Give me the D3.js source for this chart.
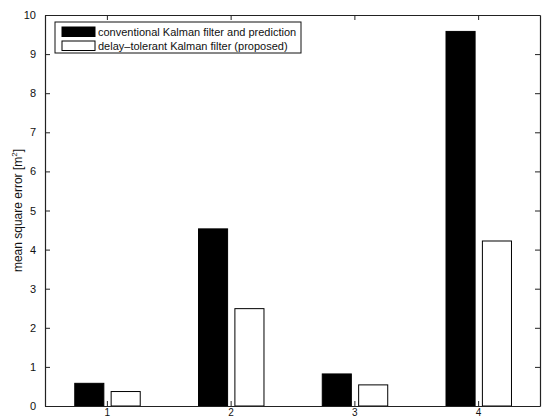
<!DOCTYPE html>
<html>
<head>
<meta charset="utf-8">
<script src="https://cdn.jsdelivr.net/npm/d3@7"></script>
<style>
body { margin: 0; background: #fff; }
text { font-family: "Liberation Sans", Arial, sans-serif; fill: #111; }
</style>
</head>
<body>
<div id="chart"></div>
<script>
// data
var scenarios = [1, 2, 3, 4];
var conventional = [0.58, 4.53, 0.82, 9.58];
var proposed = [0.37, 2.49, 0.54, 4.22];
var seriesNames = ["conventional Kalman filter and prediction", "delay\u2013tolerant Kalman filter (proposed)"];
var yTicks = [0, 1, 2, 3, 4, 5, 6, 7, 8, 9, 10];

function createChart(){
	var width = 544;
	var height = 419;
	var margin = {left: 45, right: 4, top: 15, bottom: 13};

	var svg = d3.select("#chart")
				.append("svg")
				.attr("width", width)
				.attr("height", height);

	// scales, matlab style xlim [0.5 4.5]
	var x = d3.scaleLinear()
			  .domain([0.5, 4.5])
			  .range([margin.left, width - margin.right]);
	var y = d3.scaleLinear()
			  .domain([0, 10])
			  .range([height - margin.bottom, margin.top]);

	drawBars(svg, x, y);
	drawAxes(svg, x, y, width, height, margin);
	drawLegend(svg);
}

function drawBars(svg, x, y){
	var barW = 0.235;
	var offsets = [-0.142, 0.152];
	var fills = ["#000", "#fff"];
	var series = [conventional, proposed];

	series.forEach(function(vals, s){
		svg.selectAll("rect.s" + s)
			.data(vals)
			.enter()
			.append("rect")
			.attr("class", "s" + s)
			.attr("x", function(d, i){ return x(scenarios[i] + offsets[s] - barW / 2); })
			.attr("width", x(barW) - x(0))
			.attr("y", function(d){ return y(d); })
			.attr("height", function(d){ return y(0) - y(d); })
			.attr("fill", fills[s])
			.attr("stroke", "#000")
			.attr("stroke-width", 1);
	});
}

function drawAxes(svg, x, y, width, height, margin){
	var tickLen = 5;

	// bottom axis, ticks pointing inward
	var bottom = svg.append("g")
		.attr("transform", "translate(0," + y(0) + ")")
		.call(d3.axisBottom(x).tickValues(scenarios).tickFormat(d3.format("d"))
			.tickSizeInner(-tickLen).tickSizeOuter(0).tickPadding(3));
	var top = svg.append("g")
		.attr("transform", "translate(0," + y(10) + ")")
		.call(d3.axisTop(x).tickValues(scenarios).tickSizeInner(-tickLen).tickSizeOuter(0).tickFormat(""));
	var left = svg.append("g")
		.attr("transform", "translate(" + x(0.5) + ",0)")
		.call(d3.axisLeft(y).tickValues(yTicks).tickFormat(d3.format("d"))
			.tickSizeInner(-tickLen).tickSizeOuter(0).tickPadding(9));
	var right = svg.append("g")
		.attr("transform", "translate(" + x(4.5) + ",0)")
		.call(d3.axisRight(y).tickValues(yTicks).tickSizeInner(-tickLen).tickSizeOuter(0).tickFormat(""));

	[bottom, top, left, right].forEach(function(g){
		g.select(".domain").attr("stroke", "#222").attr("stroke-width", 1.2);
		g.selectAll(".tick line").attr("stroke", "#222");
		g.selectAll(".tick text")
		 .style("font-family", "'Liberation Sans', Arial, sans-serif")
		 .style("font-size", "11px")
		 .attr("fill", "#111");
	});
	bottom.selectAll(".tick text").style("font-size", "10px");

	// y label
	var lbl = svg.append("text")
		.attr("transform", "translate(22," + y(5) + ") rotate(-90)")
		.attr("text-anchor", "middle")
		.style("font-size", "12px");
	lbl.append("tspan").text("mean square error [m");
	lbl.append("tspan").attr("dy", -5).style("font-size", "8px").text("2");
	lbl.append("tspan").attr("dy", 5).text("]");
}

function drawLegend(svg){
	var lx = 55, ly = 22;
	svg.append("rect")
		.attr("x", lx).attr("y", ly)
		.attr("width", 246).attr("height", 31)
		.attr("fill", "#fff")
		.attr("stroke", "#111");

	var fills = ["#000", "#fff"];
	var items = svg.selectAll("g.leg")
		.data(seriesNames)
		.enter()
		.append("g")
		.attr("class", "leg")
		.attr("transform", function(d, i){ return "translate(" + (lx + 7) + "," + (ly + 5 + i * 14) + ")"; });

	items.append("rect")
		.attr("width", 33).attr("height", 9.5)
		.attr("fill", function(d, i){ return fills[i]; })
		.attr("stroke", "#000");
	items.append("text")
		.attr("x", 36).attr("y", 9)
		.style("font-size", "11px")
		.text(function(d){ return d; });
}

createChart();
</script>
</body>
</html>
